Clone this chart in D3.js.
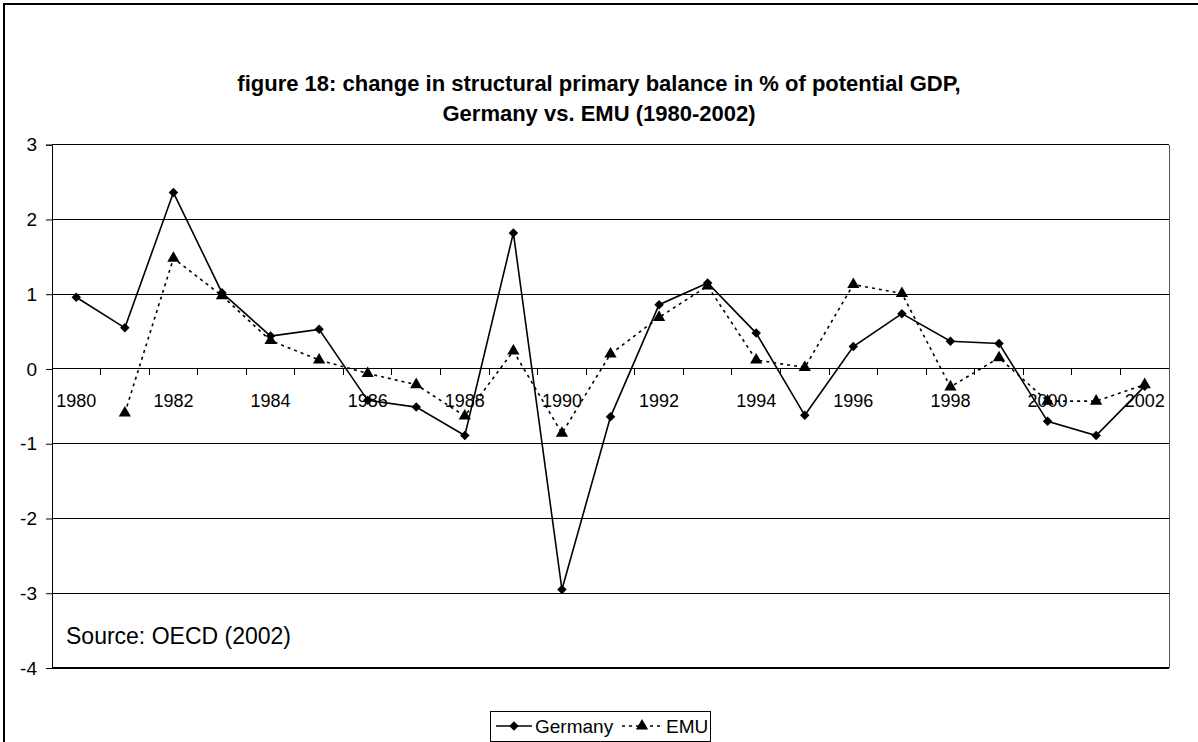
<!DOCTYPE html>
<html>
<head>
<meta charset="utf-8">
<script src="https://cdnjs.cloudflare.com/ajax/libs/d3/7.8.5/d3.min.js"></script>
<style>
  body { margin: 0; background: #fff; }
  svg { display: block; font-family: "Liberation Sans", Arial, sans-serif; }
</style>
</head>
<body>
<svg id="chart" width="1198" height="742"></svg>
<script>
// chart data
var years = d3.range(1980, 2003).map(String);
var germany = [0.96, 0.55, 2.36, 1.02, 0.44, 0.53, -0.42, -0.51, -0.89, 1.82, -2.95, -0.64,
               0.86, 1.15, 0.48, -0.62, 0.30, 0.74, 0.37, 0.34, -0.70, -0.89, -0.23];
var emu = [null, -0.59, 1.48, 0.98, 0.38, 0.12, -0.06, -0.21, -0.63, 0.24, -0.86, 0.20,
           0.69, 1.11, 0.12, 0.02, 1.13, 1.01, -0.24, 0.15, -0.43, -0.43, -0.21];
var yTicks = [-4, -3, -2, -1, 0, 1, 2, 3];
var labelYears = years.filter(function(d, i) { return i % 2 === 0; });

var svg = d3.select('#chart');

// outer chart border (runs off the right/bottom edge)
svg.append('rect')
    .attr('x', 4).attr('y', 4)
    .attr('width', 1300).attr('height', 900)
    .attr('fill', 'none').attr('stroke', '#000').attr('stroke-width', 2);

// title
var title = svg.append('text')
    .attr('text-anchor', 'middle')
    .style('font-size', '22px')
    .style('font-weight', 'bold');
title.append('tspan').attr('x', 599).attr('y', 91)
    .text('figure 18: change in structural primary balance in % of potential GDP,');
title.append('tspan').attr('x', 599).attr('y', 121)
    .text('Germany vs. EMU (1980-2002)');

var plot = {l: 52, r: 1169, t: 144.7, b: 668};

var x = d3.scaleBand().domain(years).range([plot.l, plot.r]).padding(0);
var y = d3.scaleLinear().domain([-4, 3]).range([plot.b, plot.t]);
var cx = function(d) { return x(d) + x.bandwidth() / 2; };

// horizontal gridlines
svg.append('g').selectAll('line')
    .data(yTicks)
    .join('line')
    .attr('x1', plot.l).attr('x2', plot.r)
    .attr('y1', function(d) { return y(d); })
    .attr('y2', function(d) { return y(d); })
    .attr('stroke', '#000')
    .attr('stroke-width', function(d) { return d === -4 ? 2 : 1; })
    .attr('shape-rendering', 'crispEdges');

// right edge of plot area
svg.append('line')
    .attr('x1', plot.r).attr('x2', plot.r)
    .attr('y1', plot.t).attr('y2', plot.b)
    .attr('stroke', '#555').attr('stroke-width', 1)
    .attr('shape-rendering', 'crispEdges');

// y axis (plain hyphen minus like the original)
var yAxis = d3.axisLeft(y).tickValues(yTicks)
    .tickFormat(function(d) { return String(d); })
    .tickSize(6).tickPadding(9);
svg.append('g')
    .attr('transform', 'translate(' + plot.l + ',0)')
    .call(yAxis)
    .call(function(g) {
        g.select('.domain').attr('stroke', '#000');
        g.selectAll('text').style('font-size', '19px').attr('fill', '#000')
            .style('font-family', '"Liberation Sans", Arial, sans-serif');
    });

// category axis sitting on the zero line, ticks between categories
var xAxis = d3.axisBottom(x).tickValues(labelYears).tickSize(0).tickPadding(25);
var xg = svg.append('g')
    .attr('transform', 'translate(0,' + y(0) + ')')
    .call(xAxis);
xg.select('.domain').remove();
xg.selectAll('text').style('font-size', '18px').attr('fill', '#000')
    .style('font-family', '"Liberation Sans", Arial, sans-serif');
xg.selectAll('.sep')
    .data(years.slice(1))
    .join('line')
    .attr('class', 'sep')
    .attr('x1', function(d) { return x(d); })
    .attr('x2', function(d) { return x(d); })
    .attr('y1', 0).attr('y2', 6)
    .attr('stroke', '#000')
    .attr('shape-rendering', 'crispEdges');

// series lines
var line = d3.line()
    .defined(function(d) { return d.v !== null; })
    .x(function(d) { return cx(d.year); })
    .y(function(d) { return y(d.v); });

var gerData = years.map(function(d, i) { return {year: d, v: germany[i]}; });
var emuData = years.map(function(d, i) { return {year: d, v: emu[i]}; });

svg.append('path')
    .datum(emuData)
    .attr('d', line)
    .attr('fill', 'none').attr('stroke', '#000')
    .attr('stroke-width', 1.6)
    .attr('stroke-dasharray', '3,4');

svg.append('path')
    .datum(gerData)
    .attr('d', line)
    .attr('fill', 'none').attr('stroke', '#000')
    .attr('stroke-width', 1.6);

var diamond = d3.symbol().type(d3.symbolSquare).size(45);
var triangle = d3.symbol().type(d3.symbolTriangle).size(65);

svg.append('g').selectAll('path')
    .data(emuData.filter(function(d) { return d.v !== null; }))
    .join('path')
    .attr('d', triangle)
    .attr('transform', function(d) { return 'translate(' + cx(d.year) + ',' + y(d.v) + ')'; })
    .attr('fill', '#000');

svg.append('g').selectAll('path')
    .data(gerData)
    .join('path')
    .attr('d', diamond)
    .attr('transform', function(d) { return 'translate(' + cx(d.year) + ',' + y(d.v) + ') rotate(45)'; })
    .attr('fill', '#000');

// source note
svg.append('text')
    .attr('x', 66).attr('y', 644)
    .style('font-size', '23px')
    .text('Source: OECD (2002)');

// legend
var lg = svg.append('g').attr('transform', 'translate(490,711)');
lg.append('rect')
    .attr('width', 220).attr('height', 30)
    .attr('fill', '#fff').attr('stroke', '#000').attr('stroke-width', 1)
    .attr('shape-rendering', 'crispEdges');
lg.append('line').attr('x1', 6).attr('x2', 42).attr('y1', 15).attr('y2', 15)
    .attr('stroke', '#000').attr('stroke-width', 1.6);
lg.append('path').attr('d', diamond)
    .attr('transform', 'translate(24,15) rotate(45)').attr('fill', '#000');
lg.append('text').attr('x', 45).attr('y', 22).style('font-size', '19px').text('Germany');
lg.append('line').attr('x1', 132).attr('x2', 172).attr('y1', 15).attr('y2', 15)
    .attr('stroke', '#000').attr('stroke-width', 1.6).attr('stroke-dasharray', '3,4');
lg.append('path').attr('d', triangle)
    .attr('transform', 'translate(152,15)').attr('fill', '#000');
lg.append('text').attr('x', 176).attr('y', 22).style('font-size', '19px').text('EMU');
</script>
</body>
</html>
